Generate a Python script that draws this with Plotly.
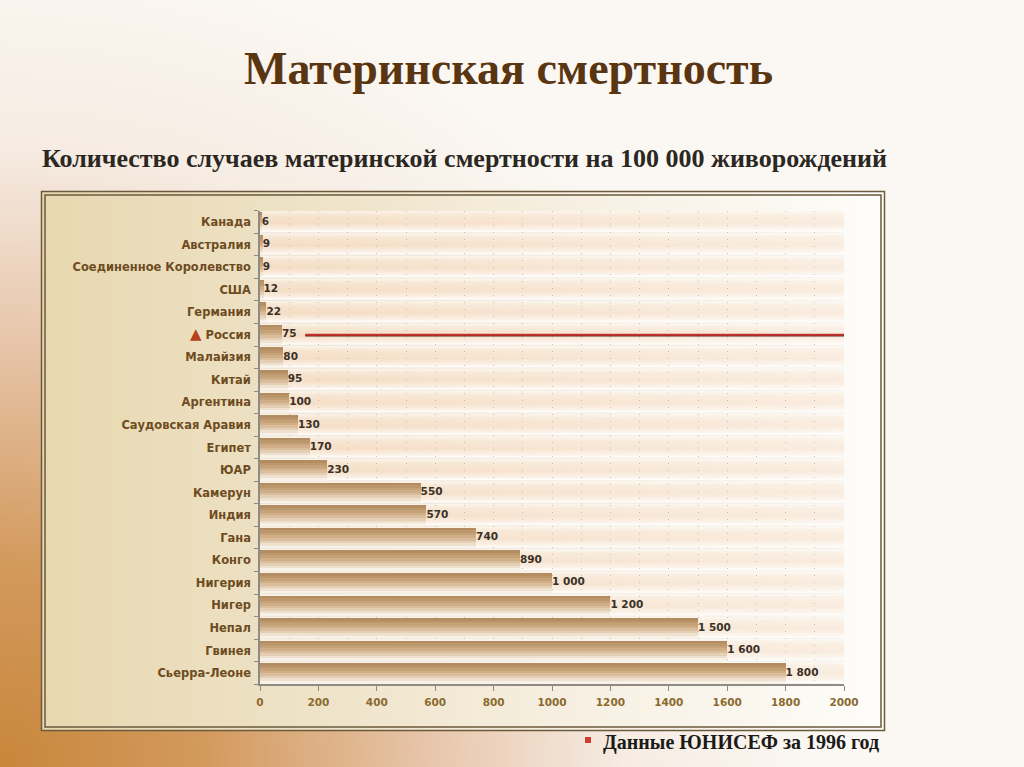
import base64
import plotly.graph_objects as go

# ---------------- data ----------------
countries = ["Канада", "Австралия", "Соединенное Королевство", "США", "Германия",
             "Россия", "Малайзия", "Китай", "Аргентина", "Саудовская Аравия",
             "Египет", "ЮАР", "Камерун", "Индия", "Гана", "Конго", "Нигерия",
             "Нигер", "Непал", "Гвинея", "Сьерра-Леоне"]
deaths = [6, 9, 9, 12, 22, 75, 80, 95, 100, 130, 170, 230, 550, 570, 740, 890,
          1000, 1200, 1500, 1600, 1800]
highlight = "Россия"
x_ticks = [0, 200, 400, 600, 800, 1000, 1200, 1400, 1600, 1800, 2000]

title = "Материнская смертность"
subtitle = "Количество случаев материнской смертности на 100 000 живорождений"
source = "Данные ЮНИСЕФ за 1996 год"

W, H = 1024, 767


def svg_uri(svg):
    return "data:image/svg+xml;base64," + base64.b64encode(svg.encode("utf-8")).decode()


def fmt(v):
    return f"{v:,}".replace(",", "\u00a0")


# ---------------- background images ----------------
bg_svg = f'''<svg xmlns="http://www.w3.org/2000/svg" width="{W}" height="{H}" viewBox="0 0 {W} {H}" preserveAspectRatio="none">
<defs><radialGradient id="r" cx="0" cy="{H}" r="830" gradientUnits="userSpaceOnUse">
<stop offset="0" stop-color="#c8863a"/><stop offset="0.25" stop-color="#d39a5e"/>
<stop offset="0.5" stop-color="#e6c3a6"/><stop offset="0.75" stop-color="#f6ece3"/>
<stop offset="1" stop-color="#fbf8f3"/></radialGradient></defs>
<rect width="{W}" height="{H}" fill="url(#r)"/></svg>'''

frame_svg = '''<svg xmlns="http://www.w3.org/2000/svg" width="100" height="100" viewBox="0 0 100 100" preserveAspectRatio="none">
<defs><linearGradient id="g" x1="0" y1="0" x2="1" y2="0">
<stop offset="0" stop-color="#e8d8b0"/><stop offset="0.3" stop-color="#eee2c6"/>
<stop offset="0.65" stop-color="#f7f0e3"/><stop offset="1" stop-color="#fefdfa"/></linearGradient></defs>
<rect width="100" height="100" fill="url(#g)"/></svg>'''

n = len(countries)
rows = "".join(f'<rect x="0" y="{i}" width="100" height="1" fill="url(#s)"/>' for i in range(n))
stripe_svg = f'''<svg xmlns="http://www.w3.org/2000/svg" width="100" height="{n}" viewBox="0 0 100 {n}" preserveAspectRatio="none">
<defs><linearGradient id="s" x1="0" y1="0" x2="0" y2="1">
<stop offset="0" stop-color="#fbf4ea"/><stop offset="0.2" stop-color="#f6e4cf"/>
<stop offset="0.55" stop-color="#f5dcc3"/><stop offset="0.82" stop-color="#faefe3"/>
<stop offset="0.92" stop-color="#fffcf8"/><stop offset="1" stop-color="#e6ddd1"/></linearGradient>
<linearGradient id="f" x1="0" y1="0" x2="1" y2="0">
<stop offset="0" stop-color="#ffffff" stop-opacity="0"/><stop offset="1" stop-color="#ffffff" stop-opacity="0.45"/></linearGradient></defs>
{rows}<rect width="100" height="{n}" fill="url(#f)"/></svg>'''

# ---------------- figure ----------------
fig = go.Figure()

strip_colors = ["#b48c62", "#bd976c", "#c6a279", "#cfae88", "#d9bd9c",
                "#e4cfb5", "#efe1cf", "#f8f1e7"]
bar_th = 0.9
k = len(strip_colors)
for i, c in enumerate(strip_colors):
    fig.add_trace(go.Bar(
        x=deaths, y=countries, orientation="h",
        width=bar_th / k + 0.004, offset=-bar_th / 2 + i * bar_th / k,
        marker=dict(color=c, line=dict(width=0)),
        hoverinfo="skip", showlegend=False,
    ))

fig.add_trace(go.Scatter(
    x=deaths, y=countries, mode="text",
    text=[fmt(v) for v in deaths], textposition="middle right",
    textfont=dict(family="DejaVu Sans", size=10.5, color="#3b3127", weight="bold"),
    hoverinfo="skip", showlegend=False, cliponaxis=False,
))

tick_text = []
for c in countries:
    if c == highlight:
        tick_text.append('<span style="color:#b8401e;font-size:15px">▲</span> ' + c)
    else:
        tick_text.append(c)

x0, x1 = 260 / W, 844 / W
y_top, y_bot = 1 - 210.7 / H, 1 - 684.3 / H

fig.update_layout(
    width=W, height=H, autosize=False,
    margin=dict(l=0, r=0, t=0, b=0, autoexpand=False),
    showlegend=False,
    paper_bgcolor="#fbf8f3",
    plot_bgcolor="rgba(0,0,0,0)",
    barmode="overlay",
    bargap=0,
    xaxis=dict(
        domain=[x0, x1], range=[0, 2000], tickvals=x_ticks, automargin=False,
        ticktext=[str(v) for v in x_ticks],
        tickfont=dict(family="DejaVu Sans", size=10.5, color="#8a6a2e", weight="bold"),
        showline=True, linecolor="#8f8a84", linewidth=1.5,
        ticks="outside", ticklen=5, tickcolor="#8f8a84", ticklabelstandoff=2,
        showgrid=True, gridcolor="#cdbcaa", griddash="1px,6px", gridwidth=1,
        minor=dict(dtick=100, showgrid=True, gridcolor="#cdbcaa", griddash="1px,6px", gridwidth=1),
        zeroline=False, fixedrange=True,
    ),
    yaxis=dict(
        domain=[y_bot, y_top], automargin=False,
        categoryorder="array", categoryarray=countries,
        tickvals=countries, ticktext=tick_text,
        range=[n - 0.5, -0.5],
        tickfont=dict(family="DejaVu Sans", size=11.5, color="#6e4c22", weight="bold"),
        showline=True, linecolor="#8f8a84", linewidth=1.5,
        ticks="outside", ticklen=4, tickcolor="#8f8a84", tickson="boundaries",
        ticklabelstandoff=5,
        showgrid=False, zeroline=False, fixedrange=True,
    ),
    images=[
        dict(source=svg_uri(bg_svg), xref="paper", yref="paper", x=0, y=1,
             sizex=1, sizey=1, sizing="stretch", layer="below"),
        dict(source=svg_uri(frame_svg), xref="paper", yref="paper",
             x=41.5 / W, y=1 - 191.5 / H, sizex=(884.5 - 41.5) / W, sizey=(730.5 - 191.5) / H,
             sizing="stretch", layer="below"),
        dict(source=svg_uri(stripe_svg), xref="x domain", yref="y domain",
             x=0, y=1, sizex=1, sizey=1, sizing="stretch", layer="below"),
    ],
    shapes=[
        dict(type="rect", xref="paper", yref="paper",
             x0=41.5 / W, x1=884.5 / W, y0=1 - 191.5 / H, y1=1 - 730.5 / H,
             line=dict(color="#6b5a3c", width=1.5), fillcolor="rgba(0,0,0,0)", layer="below"),
        dict(type="rect", xref="paper", yref="paper",
             x0=45 / W, x1=881 / W, y0=1 - 195 / H, y1=1 - 727 / H,
             line=dict(color="#6b5a3c", width=1.5), fillcolor="rgba(0,0,0,0)", layer="below"),
        dict(type="line", xref="x", yref="y",
             x0=deaths[countries.index(highlight)] + 80, x1=2000,
             y0=countries.index(highlight) + 0.04, y1=countries.index(highlight) + 0.04,
             line=dict(color="#5a2a22", width=1.5)),
        dict(type="line", xref="x", yref="y",
             x0=deaths[countries.index(highlight)] + 80, x1=2000,
             y0=countries.index(highlight), y1=countries.index(highlight),
             line=dict(color="#c8302c", width=2)),
        dict(type="rect", xref="paper", yref="paper",
             x0=585 / W, x1=591 / W, y0=1 - 737 / H, y1=1 - 743 / H,
             line=dict(width=0), fillcolor="#cc3b35"),
    ],
    annotations=[
        dict(text="<b>" + title + "</b>", xref="paper", yref="paper",
             x=508 / W, y=1 - 68 / H, xanchor="center", yanchor="middle", showarrow=False,
             font=dict(family="Liberation Serif", size=46, color="#5a3512")),
        dict(text="<b>" + subtitle + "</b>", xref="paper", yref="paper",
             x=40 / W, y=1 - 158 / H, xanchor="left", yanchor="middle", showarrow=False,
             font=dict(family="Liberation Serif", size=26, color="#2b2722")),
        dict(text="<b>" + source + "</b>", xref="paper", yref="paper",
             x=601 / W, y=1 - 742 / H, xanchor="left", yanchor="middle", showarrow=False,
             font=dict(family="Liberation Serif", size=20, color="#1c1a18")),
    ],
)

fig.write_html(
    "out.html",
    config={"displayModeBar": False, "responsive": False},
    post_script="document.body.style.margin='0';document.body.style.overflow='hidden';",
)
